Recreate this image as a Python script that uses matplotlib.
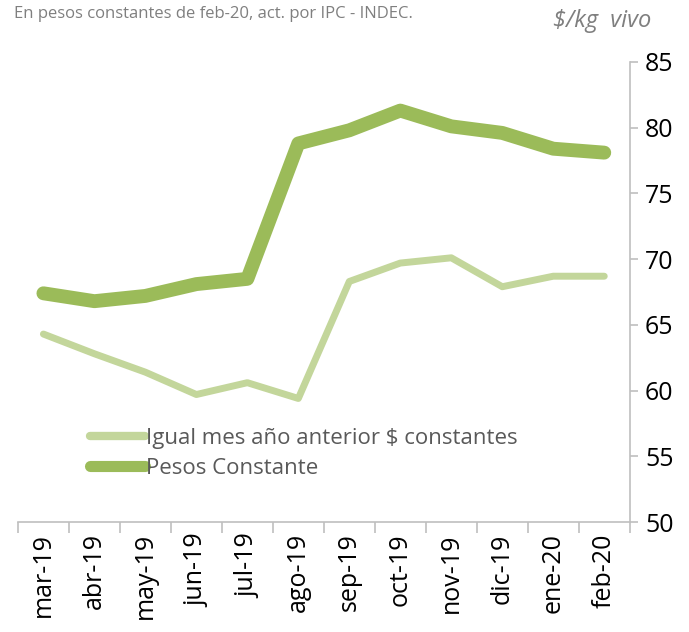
import matplotlib.pyplot as plt

meses = ['mar-19', 'abr-19', 'may-19', 'jun-19', 'jul-19', 'ago-19',
         'sep-19', 'oct-19', 'nov-19', 'dic-19', 'ene-20', 'feb-20']
pesos_constante = [67.4, 66.8, 67.2, 68.1, 68.5, 78.8, 79.8, 81.3, 80.1, 79.6, 78.4, 78.1]
igual_mes_anterior = [64.3, 62.8, 61.4, 59.7, 60.6, 59.4, 68.3, 69.7, 70.1, 67.9, 68.7, 68.7]

plt.rcParams['font.family'] = ['Open Sans', 'DejaVu Sans']

fig = plt.figure(figsize=(6.89, 6.32), dpi=100)
ax = fig.add_axes([0.026, 0.174, 0.888, 0.728])

x = range(len(meses))
ax.plot(x, igual_mes_anterior, color='#C3D69B', linewidth=5,
        solid_capstyle='round', solid_joinstyle='round',
        label='Igual mes año anterior $ constantes')
ax.plot(x, pesos_constante, color='#9BBB59', linewidth=10,
        solid_capstyle='round', solid_joinstyle='round',
        label='Pesos Constante')

ax.set_xlim(-0.5, 11.5)
ax.set_ylim(50, 85)
ax.set_yticks(range(50, 90, 5))

ax.yaxis.tick_right()
ax.tick_params(axis='y', labelsize=18, colors='#BFBFBF', labelcolor='black',
               length=6, width=1.2, pad=5)

ax.set_xticks(list(x))
ax.set_xticklabels(meses, rotation=90, fontsize=18)
ax.tick_params(axis='x', length=0, pad=8)
ax.set_xticks([i - 0.5 for i in range(13)], minor=True)
ax.tick_params(axis='x', which='minor', length=8, width=1.2, color='#BFBFBF')

for side in ['top', 'left']:
    ax.spines[side].set_visible(False)
for side in ['bottom', 'right']:
    ax.spines[side].set_color('#BFBFBF')
    ax.spines[side].set_linewidth(1.2)

leg = ax.legend(loc='upper left', bbox_to_anchor=(0.1, 0.228), frameon=False,
                fontsize=16, handlelength=2.45, handletextpad=0.05,
                labelspacing=0.4, borderpad=0)
for t in leg.get_texts():
    t.set_color('#595959')
leg.get_lines()[0].set_linewidth(6)
leg.get_lines()[1].set_linewidth(8)

fig.text(0.02, 0.978, 'En pesos constantes de feb-20, act. por IPC - INDEC.',
         fontsize=12, color='#7F7F7F', va='center')
fig.text(0.945, 0.966, '$/kg  vivo', fontsize=17, style='italic',
         color='#7F7F7F', va='center', ha='right')

fig.savefig('out.png', dpi=100)
